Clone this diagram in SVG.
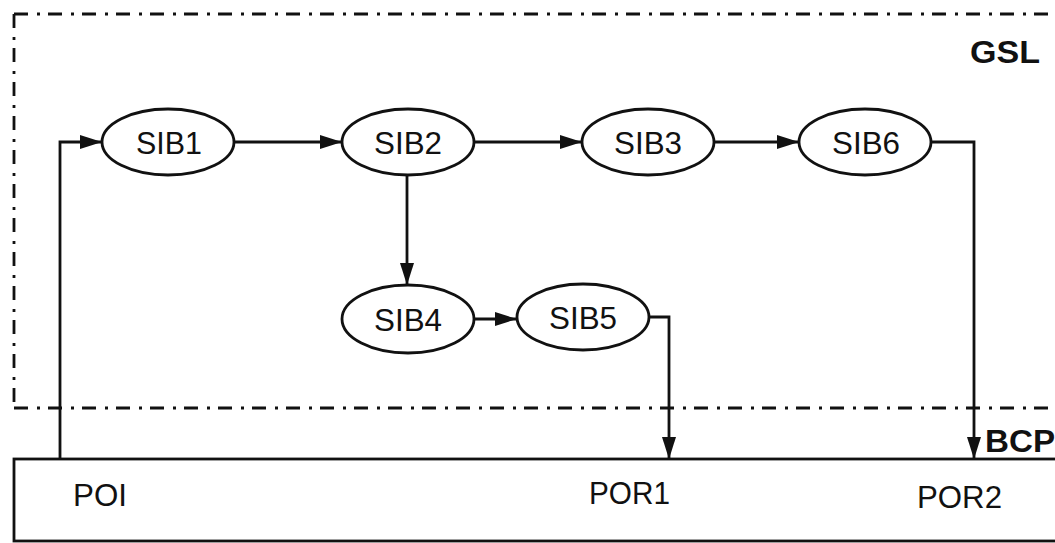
<svg xmlns="http://www.w3.org/2000/svg" width="1055" height="543" viewBox="0 0 1055 543">
<style>
.bg{fill:#ffffff}
.dd{fill:none;stroke:#111;stroke-width:2.8;stroke-dasharray:14 9 3 8}
.node ellipse{fill:#fff;stroke:#111;stroke-width:2.8}
.lbl{font-family:"Liberation Sans",Arial,sans-serif;font-size:32px;fill:#111;text-anchor:middle}
.plain{font-family:"Liberation Sans",Arial,sans-serif;font-size:31px;fill:#111}
.bold{font-family:"Liberation Sans",Arial,sans-serif;font-size:31px;font-weight:bold;fill:#111}
.conn path{fill:none;stroke:#111;stroke-width:2.8}
.box{fill:#fff;stroke:#111;stroke-width:2.8}
</style>
<defs>
<marker id="ah" markerUnits="userSpaceOnUse" markerWidth="24" markerHeight="16" refX="22" refY="7" orient="auto">
<path d="M0,0 L22,7 L0,14 z" fill="#111"/>
</marker>
</defs>
<rect class="bg" x="0" y="0" width="1055" height="543"/>
<g id="gsl-boundary">
<path class="dd" d="M14,14 H1060"/>
<path class="dd" d="M14,14 V408"/>
<path class="dd" d="M14,408 H1060"/>
<text class="bold" x="970" y="63" textLength="70" lengthAdjust="spacingAndGlyphs">GSL</text>
</g>
<g id="bcp">
<rect class="box" x="14" y="459" width="1060" height="82"/>
<text class="bold" x="985" y="452" textLength="70" lengthAdjust="spacingAndGlyphs">BCP</text>
<text class="plain" x="73" y="506" textLength="54" lengthAdjust="spacingAndGlyphs">POI</text>
<text class="plain" x="589" y="504" textLength="81" lengthAdjust="spacingAndGlyphs">POR1</text>
<text class="plain" x="917" y="508" textLength="85" lengthAdjust="spacingAndGlyphs">POR2</text>
</g>
<g id="connectors" class="conn">
<path d="M60,459 V142 H102" marker-end="url(#ah)"/>
<path d="M234,142 H342" marker-end="url(#ah)"/>
<path d="M474,142 H582" marker-end="url(#ah)"/>
<path d="M714,142 H799" marker-end="url(#ah)"/>
<path d="M932,142 H974 V459" marker-end="url(#ah)"/>
<path d="M407,175 V285" marker-end="url(#ah)"/>
<path d="M474,319 H517" marker-end="url(#ah)"/>
<path d="M649,317 H669 V459" marker-end="url(#ah)"/>
</g>
<g id="SIB1" class="node"><ellipse cx="168" cy="142" rx="66" ry="33"/><text class="lbl" x="169" y="154" textLength="66" lengthAdjust="spacingAndGlyphs">SIB1</text></g>
<g id="SIB2" class="node"><ellipse cx="408" cy="142" rx="66" ry="33"/><text class="lbl" x="408" y="154" textLength="68" lengthAdjust="spacingAndGlyphs">SIB2</text></g>
<g id="SIB3" class="node"><ellipse cx="648" cy="142" rx="66" ry="33"/><text class="lbl" x="648" y="154" textLength="68" lengthAdjust="spacingAndGlyphs">SIB3</text></g>
<g id="SIB6" class="node"><ellipse cx="865" cy="142" rx="66" ry="33"/><text class="lbl" x="866" y="154" textLength="68" lengthAdjust="spacingAndGlyphs">SIB6</text></g>
<g id="SIB4" class="node"><ellipse cx="408" cy="319" rx="66" ry="34"/><text class="lbl" x="408" y="331" textLength="68" lengthAdjust="spacingAndGlyphs">SIB4</text></g>
<g id="SIB5" class="node"><ellipse cx="583" cy="317" rx="66" ry="33"/><text class="lbl" x="583" y="329" textLength="68" lengthAdjust="spacingAndGlyphs">SIB5</text></g>
</svg>
